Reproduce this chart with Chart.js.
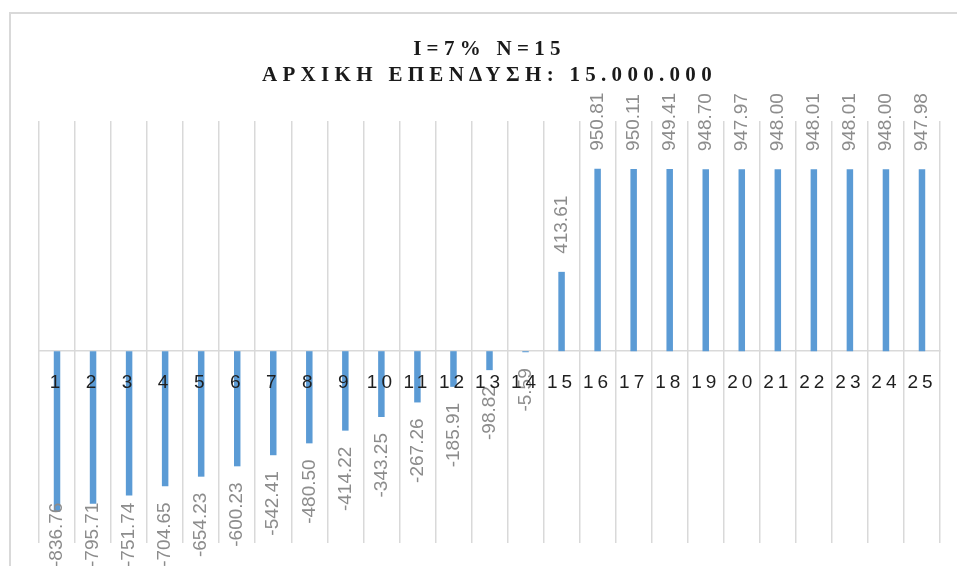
<!DOCTYPE html>
<html>
<head>
<meta charset="utf-8">
<script src="https://cdn.jsdelivr.net/npm/chart.js@4.4.1/dist/chart.umd.min.js"></script>
<style>
  html, body { margin: 0; padding: 0; background: #ffffff; }
  #wrap { width: 957px; height: 566px; position: relative; }
</style>
</head>
<body>
<div id="wrap"><canvas id="c" width="957" height="566"></canvas></div>
<script>
const titleLines = ["I=7% N=15", "ΑΡΧΙΚΗ ΕΠΕΝΔΥΣΗ: 15.000.000"];
const categories = ["1","2","3","4","5","6","7","8","9","10","11","12","13","14","15","16","17","18","19","20","21","22","23","24","25"];
const values = [-836.76, -795.71, -751.74, -704.65, -654.23, -600.23, -542.41, -480.50, -414.22, -343.25, -267.26, -185.91, -98.82, -5.59, 413.61, 950.81, 950.11, 949.41, 948.70, 947.97, 948.00, 948.01, 948.01, 948.00, 947.98];
const yMin = -1000;
const yMax = 1200;

const spacingPlugin = {
  id: 'spacing',
  beforeDraw(chart) {
    const ctx = chart.ctx;
    ctx.save();
    ctx.strokeStyle = '#d9d9d9';
    ctx.lineWidth = 2;
    ctx.strokeRect(10, 13, 1000, 700);
    ctx.restore();
    ctx.letterSpacing = '5.3px';
  },
  beforeDatasetsDraw(chart) {
    chart.ctx.letterSpacing = '0px';
  },
  afterDatasetsDraw(chart) {
    const ctx = chart.ctx;
    const meta = chart.getDatasetMeta(0);
    ctx.save();
    ctx.letterSpacing = '0px';
    ctx.font = '19px "Liberation Sans"';
    ctx.fillStyle = '#8c8c8c';
    ctx.textBaseline = 'middle';
    meta.data.forEach((bar, i) => {
      const v = values[i];
      const txt = v.toFixed(2);
      const w = ctx.measureText(txt).width;
      let yStart;
      if (v >= 0) {
        yStart = bar.y - 18;
      } else {
        yStart = bar.y + 16 + w;
        if (yStart > 567) yStart = 567;
      }
      ctx.save();
      ctx.translate(bar.x, yStart);
      ctx.rotate(-Math.PI / 2);
      ctx.textAlign = 'left';
      ctx.fillText(txt, 0, 0);
      ctx.restore();
    });
    ctx.restore();
    ctx.letterSpacing = '4px';
  },
  afterDraw(chart) {
    chart.ctx.letterSpacing = '0px';
  }
};

new Chart(document.getElementById('c'), {
  type: 'bar',
  data: {
    labels: categories,
    datasets: [{
      data: values,
      backgroundColor: '#5b9bd5',
      borderWidth: 0,
      categoryPercentage: 1,
      barPercentage: 0.18
    }]
  },
  options: {
    responsive: false,
    animation: false,
    layout: { padding: { left: 39, right: 17, top: 0, bottom: 23 } },
    plugins: {
      legend: { display: false },
      tooltip: { enabled: false },
      title: {
        display: true,
        text: titleLines,
        color: '#1a1a1a',
        font: { family: '"Liberation Serif"', size: 21, weight: 'bold', lineHeight: 1.25 },
        padding: { top: 36, bottom: 32.5 }
      }
    },
    scales: {
      x: {
        position: { y: 0 },
        afterFit(scale) { scale.height = 0; },
        grid: { display: true, offset: true, color: '#d9d9d9', lineWidth: 1.5, drawTicks: false, z: 0 },
        border: { display: true, color: '#d9d9d9', width: 1.5 },
        ticks: {
          color: '#1f1f1f',
          font: { family: '"Liberation Sans"', size: 19 },
          padding: 20,
          maxRotation: 0,
          autoSkip: false,
          z: 1
        }
      },
      y: {
        display: false,
        min: yMin,
        max: yMax
      }
    }
  },
  plugins: [spacingPlugin]
});
</script>
</body>
</html>
